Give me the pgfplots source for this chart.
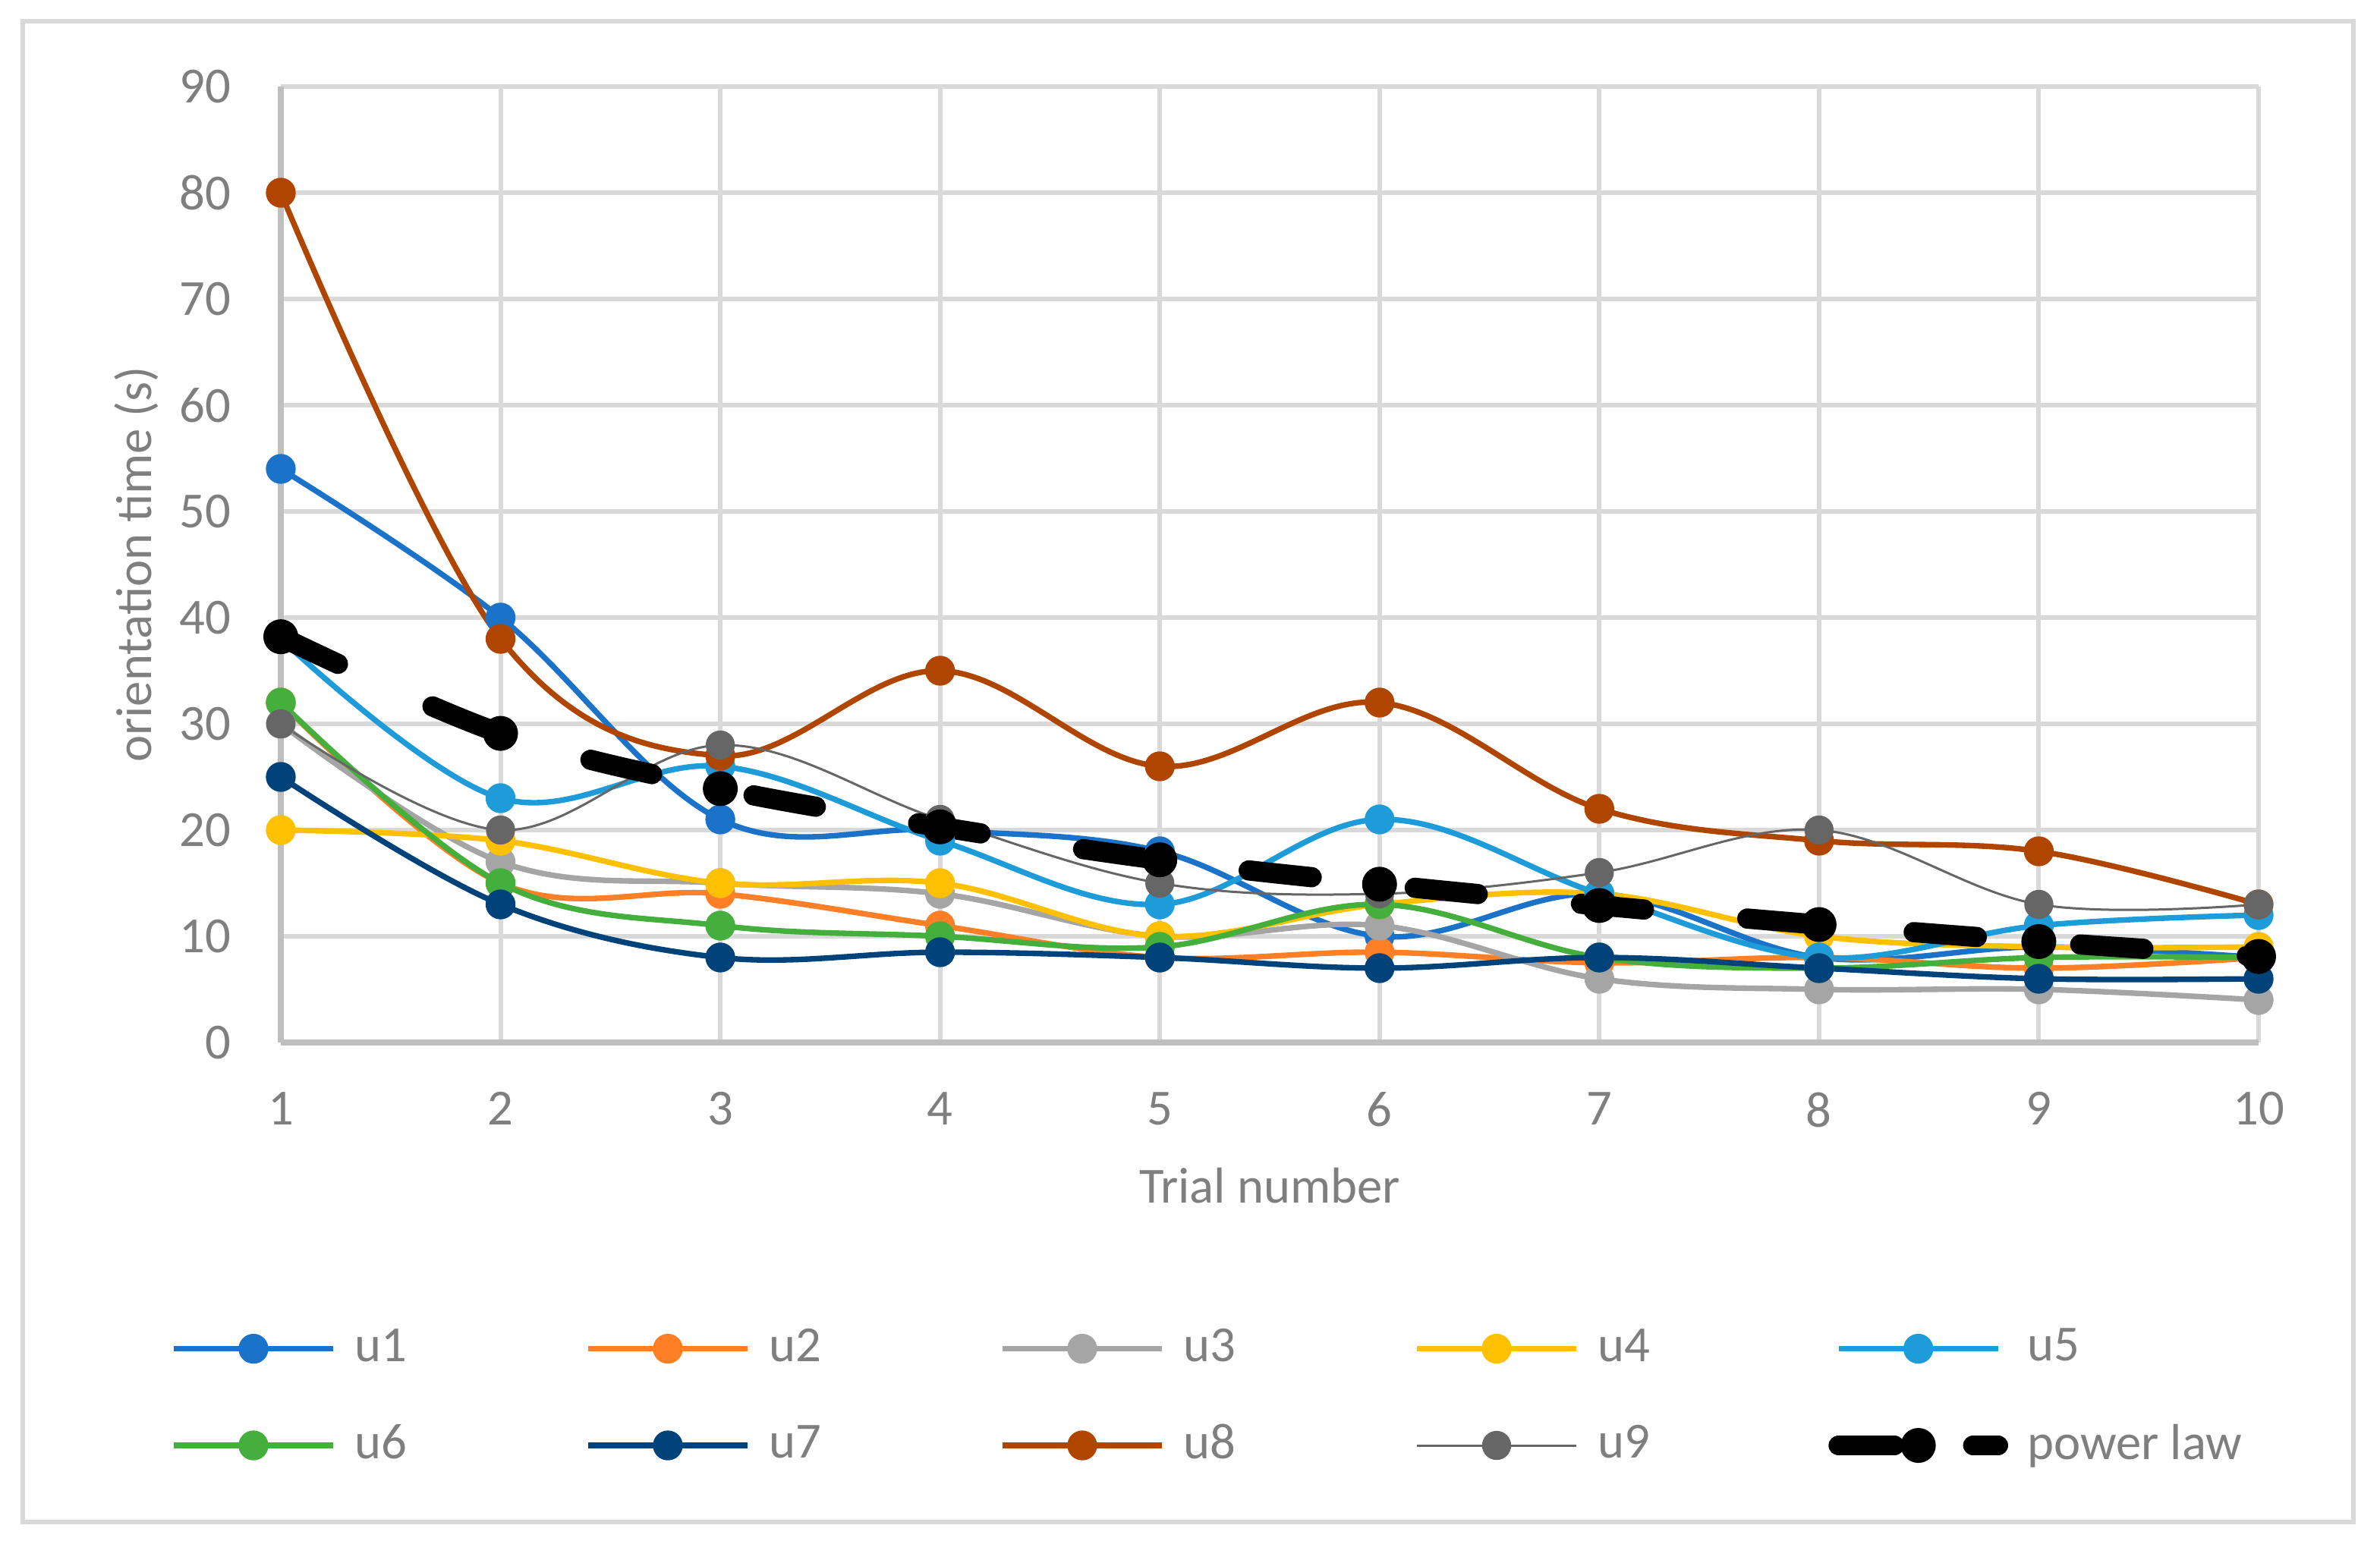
\documentclass[border=0pt]{standalone}
\usepackage{fontspec}
\setmainfont{Carlito}
\usepackage{pgfplots}
\pgfplotsset{compat=1.18}
\definecolor{cu1}{RGB}{26,115,200}
\definecolor{cu2}{RGB}{255,127,39}
\definecolor{cu3}{RGB}{165,165,165}
\definecolor{cu4}{RGB}{255,192,0}
\definecolor{cu5}{RGB}{30,156,217}
\definecolor{cu6}{RGB}{68,175,60}
\definecolor{cu7}{RGB}{0,66,122}
\definecolor{cu8}{RGB}{176,69,0}
\definecolor{cu9}{RGB}{102,102,102}
\definecolor{gridcol}{RGB}{217,217,217}
\definecolor{axiscol}{RGB}{191,191,191}
\definecolor{textcol}{RGB}{127,127,127}
\pgfplotsset{
  ser/.style={color=#1, smooth, tension=0.6, mark=*, mark size=2.4pt,
    line width=1.1pt, mark options={solid, fill=#1}},
  powleg/.style={legend image code/.code={\draw[mark repeat=2,mark phase=2,##1,dash pattern=on 11pt off 15.6pt] plot coordinates {(0pt,0pt)(15.75pt,0pt)(31.5pt,0pt)};}},
}
\begin{document}
\fontsize{10pt}{12pt}\selectfont
\begin{tikzpicture}
\useasboundingbox (0,0) rectangle (470.4pt,-304.65pt);
\draw[color=gridcol, line width=0.9pt] (4.5pt,-4.2pt) rectangle (465.15pt,-300.9pt);
\begin{axis}[
  at={(55.5pt,-17.1pt)}, anchor=north west,
  width=390.9pt, height=189pt, scale only axis,
  xmin=1, xmax=10, ymin=0, ymax=90,
  xtick={1,...,10}, ytick={0,10,...,90},
  grid=major, major grid style={color=gridcol, line width=0.9pt},
  axis x line*=bottom, axis y line*=left,
  axis line style={color=axiscol, line width=1.1pt, -},
  major tick length=0pt,
  clip=false,
  /pgf/number format/assume math mode=true,
  tick label style={color=textcol, font=\fontsize{10pt}{12pt}\selectfont},
  xticklabel style={yshift=-6.3pt},
  yticklabel style={xshift=-6.3pt},
  xlabel={Trial number}, ylabel={orientation time (s)},
  label style={color=textcol, font=\fontsize{10pt}{12pt}\selectfont},
  x label style={at={(axis description cs:0.5,-0.1675)}, anchor=base},
  y label style={at={(axis description cs:-0.0656,0.5)}, anchor=base, rotate=0},
  legend columns=5,
  legend cell align=left,
  legend style={draw=none, fill=none, text=textcol,
    font=\fontsize{10pt}{12pt}\selectfont,
    at={(axis description cs:-0.0637,-0.277)}, anchor=north west,
    row sep=6.9pt,
    /tikz/every odd column/.append style={column sep=1.8pt}},
  legend image code/.code={\draw[mark repeat=2,mark phase=2,#1] plot coordinates {(0pt,0pt)(15.75pt,0pt)(31.5pt,0pt)};},
]
\addplot[ser=cu1] coordinates {(1,54)(2,40)(3,21)(4,20)(5,18)(6,10)(7,14)(8,8)(9,9)(10,8)};
\addlegendentry{\makebox[43.5pt][l]{u1}}
\addplot[ser=cu2] coordinates {(1,32)(2,15)(3,14)(4,11)(5,8)(6,8.5)(7,7.5)(8,8)(9,7)(10,8)};
\addlegendentry{\makebox[43.5pt][l]{u2}}
\addplot[ser=cu3] coordinates {(1,30)(2,17)(3,15)(4,14)(5,10)(6,11)(7,6)(8,5)(9,5)(10,4)};
\addlegendentry{\makebox[43.5pt][l]{u3}}
\addplot[ser=cu4] coordinates {(1,20)(2,19)(3,15)(4,15)(5,10)(6,13)(7,14)(8,10)(9,9)(10,9)};
\addlegendentry{\makebox[43.5pt][l]{u4}}
\addplot[ser=cu5] coordinates {(1,38)(2,23)(3,26)(4,19)(5,13)(6,21)(7,14)(8,8)(9,11)(10,12)};
\addlegendentry{\makebox[43.5pt][l]{u5}}
\addplot[ser=cu6] coordinates {(1,32)(2,15)(3,11)(4,10)(5,9)(6,13)(7,8)(8,7)(9,8)(10,8)};
\addlegendentry{\makebox[43.5pt][l]{u6}}
\addplot[ser=cu7] coordinates {(1,25)(2,13)(3,8)(4,8.5)(5,8)(6,7)(7,8)(8,7)(9,6)(10,6)};
\addlegendentry{\makebox[43.5pt][l]{u7}}
\addplot[ser=cu8] coordinates {(1,80)(2,38)(3,27)(4,35)(5,26)(6,32)(7,22)(8,19)(9,18)(10,13)};
\addlegendentry{\makebox[43.5pt][l]{u8}}
\addplot[ser=cu9, line width=0.45pt, mark size=2.65pt] coordinates {(1,30)(2,20)(3,28)(4,21)(5,15)(6,14)(7,16)(8,20)(9,13)(10,13)};
\addlegendentry{\makebox[43.5pt][l]{u9}}
\addplot[color=black, smooth, tension=0.6, line width=4pt, line cap=round,
  dash pattern=on 12.5pt off 20.5pt, mark=*, mark size=3.2pt,
  mark options={solid, fill=black, line width=0.5pt}, powleg]
  coordinates {(1,38.2)(2,29.1)(3,23.9)(4,20.3)(5,17.2)(6,14.9)(7,12.9)(8,11.1)(9,9.5)(10,8.1)};
\addlegendentry{\makebox[43.5pt][l]{power law}}
\end{axis}
\end{tikzpicture}
\end{document}
